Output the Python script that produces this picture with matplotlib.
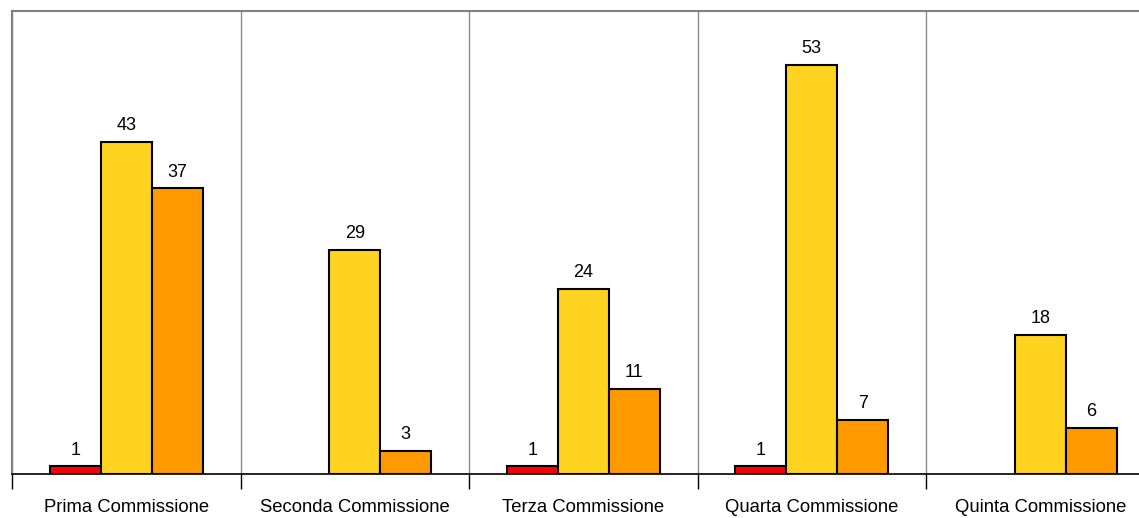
import numpy as np
import matplotlib.pyplot as plt

plt.rcParams['font.family'] = ['Liberation Sans', 'DejaVu Sans']

categories = ['Prima Commissione', 'Seconda Commissione', 'Terza Commissione',
              'Quarta Commissione', 'Quinta Commissione']
serie_rossa = [1, 0, 1, 1, 0]
serie_gialla = [43, 29, 24, 53, 18]
serie_arancio = [37, 3, 11, 7, 6]

colors = ['#ff0000', '#ffd320', '#ff9900']

fig = plt.figure(figsize=(11.39, 5.18), dpi=100)
# right edge of the plot runs past the picture, as in the reference
ax = fig.add_axes([12 / 1139, (518 - 474) / 518, 1142.5 / 1139, 463 / 518])

x = np.arange(len(categories))
w = 0.223
for i, (vals, c) in enumerate(zip([serie_rossa, serie_gialla, serie_arancio], colors)):
    pos = x + (i - 1) * w
    for p, v in zip(pos, vals):
        if v == 0:
            continue
        ax.bar(p, v, width=w, color=c, edgecolor='black', linewidth=1.5, zorder=3)
        ax.text(p, v + 1.0, str(v), ha='center', va='bottom', fontsize=13, zorder=4)

ax.set_xlim(-0.5, len(categories) - 0.5)
ax.set_ylim(0, 60)
ax.set_yticks([])
ax.set_xticks(x)
ax.set_xticklabels(categories, fontsize=13.3)
ax.tick_params(axis='x', which='major', length=0, pad=18)
ax.set_xticks(np.arange(len(categories) + 1) - 0.5, minor=True)
ax.tick_params(axis='x', which='minor', length=11, width=1, color='black')
ax.grid(axis='x', which='minor', color='#8c8c8c', linewidth=1, zorder=0)

for s in ['left', 'top', 'right']:
    ax.spines[s].set_color('#808080')
    ax.spines[s].set_linewidth(1.5)
ax.spines['bottom'].set_color('black')
ax.spines['bottom'].set_linewidth(1.2)
ax.spines['bottom'].set_zorder(5)

fig.savefig('out.png', dpi=100)
